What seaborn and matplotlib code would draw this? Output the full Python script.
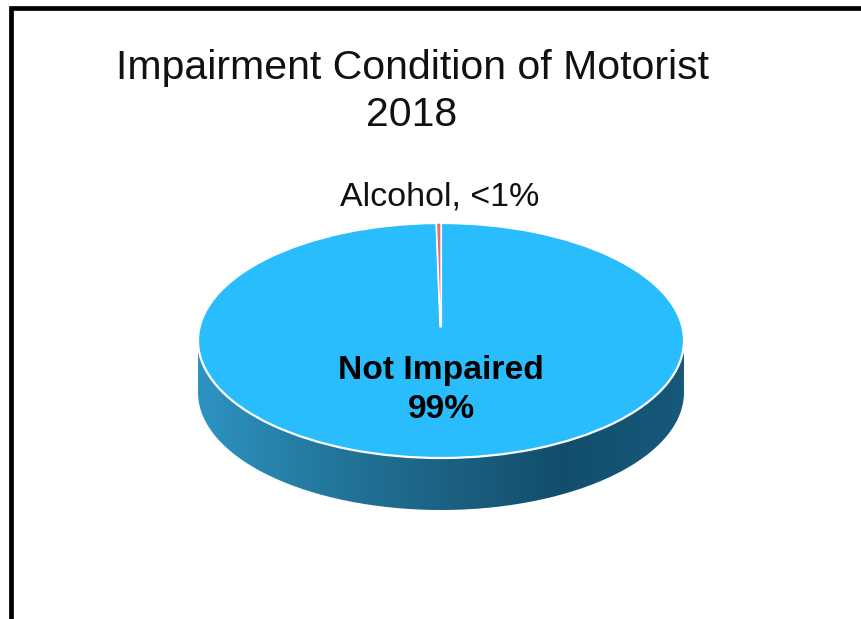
import numpy as np
import matplotlib
matplotlib.use("Agg")
import matplotlib.pyplot as plt
from matplotlib.path import Path
from matplotlib.patches import PathPatch, Rectangle
from matplotlib.colors import LinearSegmentedColormap
import seaborn as sns

title_lines = ["Impairment Condition of Motorist", "2018"]
categories = ["Alcohol", "Not Impaired"]
values = [0.3, 99.7]
value_labels = ["<1%", "99%"]
colors = ["#D9707F", "#29BDFD"]
side_colors = ["#2E93C2", "#24789F", "#1C6283", "#124E6C", "#17597A"]

sns.set_theme(style="white")
plt.rcParams["font.family"] = ["Liberation Sans", "DejaVu Sans"]

W, H = 861, 619
fig = plt.figure(figsize=(W / 100, H / 100), dpi=100, facecolor="white")

def fx(x):
    return x / W

def fy(y):
    return 1 - y / H

# outer frame (runs off the right and bottom edges)
fig.add_artist(Rectangle((fx(10.5), fy(H + 20)), fx(W + 20), fy(7.5) - fy(H + 20),
                         transform=fig.transFigure, fill=False,
                         edgecolor="black", linewidth=3.4))

# pie axes: x spans the ellipse, y spans the top face plus the side depth
left, right, top, face_bottom, bottom = 198, 684, 223, 458, 510
ry = (face_bottom - top) / 2
depth = (bottom - face_bottom) / ry
ax = fig.add_axes([fx(left), fy(bottom), fx(right) - fx(left), fy(top) - fy(bottom)])

t = np.linspace(np.pi, 2 * np.pi, 200)
xs, ys = np.cos(t), np.sin(t)
verts = np.r_[np.c_[xs, ys], np.c_[xs[::-1], ys[::-1] - depth], [[xs[0], ys[0]]]]
side = PathPatch(Path(verts), facecolor="none", edgecolor="none")
ax.add_patch(side)
cmap = LinearSegmentedColormap.from_list("side", side_colors)
img = ax.imshow(np.linspace(0, 1, 256)[None, :], extent=(-1, 1, -1 - depth, 1),
                cmap=cmap, aspect="auto", zorder=1)
img.set_clip_path(side)

wedges, _ = ax.pie(values, colors=colors, startangle=90, counterclock=True, radius=1,
                   wedgeprops={"edgecolor": "white", "linewidth": 1.6, "zorder": 2})
wedges[0].set_zorder(2.5)
wedges[0].set_linewidth(1.0)
ax.plot([-0.004, -0.004], [-0.02, 0.115], color=colors[1], lw=5, solid_capstyle="butt", zorder=3)

ax.set_aspect("auto")
ax.set_xlim(-1, 1)
ax.set_ylim(-1 - depth, 1)
ax.axis("off")

fig.text(fx(412), fy(68), title_lines[0], ha="center", va="center", fontsize=29.5, color="#111111")
fig.text(fx(412), fy(115), title_lines[1], ha="center", va="center", fontsize=29.5, color="#111111")
fig.text(fx(440), fy(197), f"{categories[0]}, {value_labels[0]}", ha="center", va="center",
         fontsize=24.5, color="#111111")
fig.text(fx(441), fy(370), categories[1], ha="center", va="center", fontsize=24.2,
         fontweight="bold", color="black")
fig.text(fx(441), fy(410), value_labels[1], ha="center", va="center", fontsize=24.2,
         fontweight="bold", color="black")

fig.savefig("out.png", dpi=100, facecolor="white")
